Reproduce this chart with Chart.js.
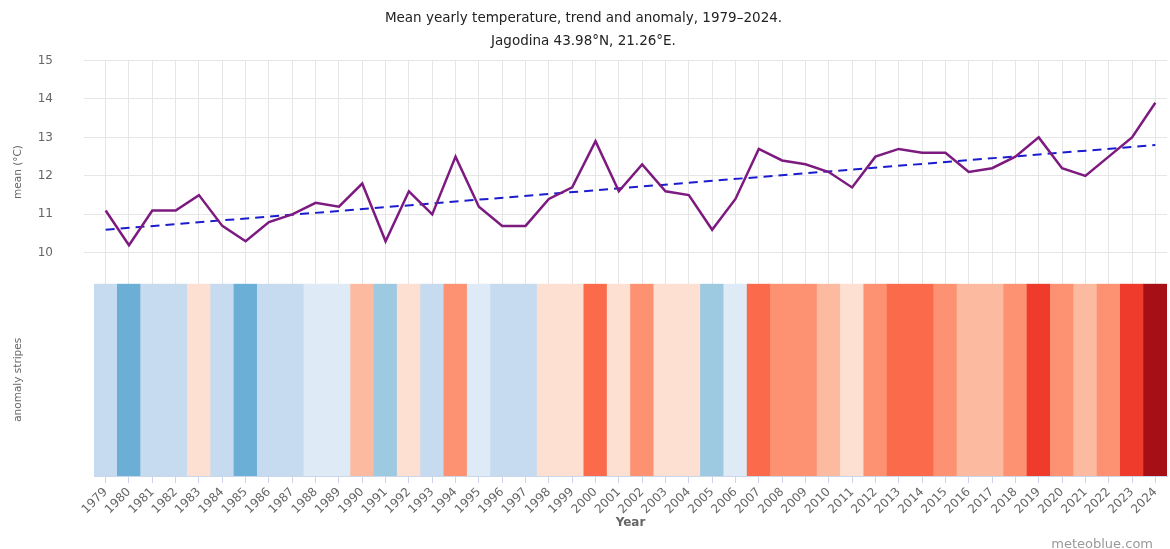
<!DOCTYPE html>
<html>
<head>
<meta charset="utf-8">
<title>Mean yearly temperature, Jagodina</title>
<script src="https://cdn.jsdelivr.net/npm/chart.js@4/dist/chart.umd.min.js"></script>
<style>
    body { margin: 0; background: #fff; }
    #wrap { position: relative; width: 1170px; height: 549px; }
</style>
</head>
<body>
<div id="wrap"><canvas id="chart" width="1170" height="549"></canvas></div>
<script>
// values
const years = ['1979', '1980', '1981', '1982', '1983', '1984', '1985', '1986', '1987', '1988',
    '1989', '1990', '1991', '1992', '1993', '1994', '1995', '1996', '1997', '1998',
    '1999', '2000', '2001', '2002', '2003', '2004', '2005', '2006', '2007', '2008',
    '2009', '2010', '2011', '2012', '2013', '2014', '2015', '2016', '2017', '2018',
    '2019', '2020', '2021', '2022', '2023', '2024'];

const meanTemp = [11.1, 10.2, 11.1, 11.1, 11.5, 10.7, 10.3, 10.8, 11.0, 11.3,
    11.2, 11.8, 10.3, 11.6, 11.0, 12.5, 11.2, 10.7, 10.7, 11.4,
    11.7, 12.9, 11.6, 12.3, 11.6, 11.5, 10.6, 11.4, 12.7, 12.4,
    12.3, 12.1, 11.7, 12.5, 12.7, 12.6, 12.6, 12.1, 12.2, 12.5,
    13.0, 12.2, 12.0, 12.5, 13.0, 13.9];

// trend line end points
const trendYears = ['1979', '2024'];
const trendValues = [10.6, 12.8];

// anomaly class of each stripe (negative = colder, positive = warmer)
const anomalyLevel = [-2, -4, -2, -2, 1, -2, -4, -2, -2, -1,
    -1, 2, -3, 1, -2, 3, -1, -2, -2, 1,
    1, 4, 1, 3, 1, 1, -3, -1, 4, 3,
    3, 2, 1, 3, 4, 4, 3, 2, 2, 3,
    5, 3, 2, 3, 5, 6];

const meanTicks = [10, 11, 12, 13, 14, 15];

const stripePalette = {
    '-4': '#6baed6', '-3': '#9ecae1', '-2': '#c6dbef', '-1': '#deebf7',
    '1': '#fee0d2', '2': '#fcbba1', '3': '#fc9272', '4': '#fb6a4a',
    '5': '#ef3b2c', '6': '#a50f15'
};

const labelFont = { family: 'DejaVu Sans', size: 12 };

const creditPlugin = {
    id: 'credit',
    afterDraw(chart) {
        const ctx = chart.ctx;
        ctx.save();
        ctx.font = '13px "DejaVu Sans"';
        ctx.fillStyle = '#999';
        ctx.textAlign = 'right';
        ctx.textBaseline = 'top';
        ctx.fillText('meteoblue.com', 1153, 538);
        ctx.restore();
    }
};

new Chart(document.getElementById('chart'), {
    data: {
        labels: years,
        datasets: [
            {
                type: 'line',
                label: 'mean',
                data: meanTemp,
                yAxisID: 'y',
                borderColor: '#7d1a80',
                borderWidth: 2.5,
                pointRadius: 0,
                tension: 0,
                order: 1
            },
            {
                type: 'line',
                label: 'trend',
                data: trendYears.map((yr, i) => ({ x: yr, y: trendValues[i] })),
                yAxisID: 'y',
                borderColor: '#1c1ccf',
                borderWidth: 2,
                borderDash: [9, 6],
                pointRadius: 0,
                order: 2
            },
            {
                type: 'bar',
                label: 'anomaly',
                data: anomalyLevel.map(() => 1),
                yAxisID: 'y2',
                backgroundColor: anomalyLevel.map(a => stripePalette[a]),
                borderWidth: 0,
                barPercentage: 1,
                categoryPercentage: 1,
                order: 3
            }
        ]
    },
    options: {
        responsive: false,
        animation: false,
        devicePixelRatio: 1,
        layout: { padding: { left: 0, right: 3, top: 0, bottom: 0 } },
        plugins: {
            legend: { display: false },
            tooltip: { enabled: false },
            title: {
                display: true,
                text: 'Mean yearly temperature, trend and anomaly, 1979\u20132024.',
                color: '#222',
                font: { family: 'DejaVu Sans', size: 13.5, weight: 'normal' },
                padding: { top: 10, bottom: 7 }
            },
            subtitle: {
                display: true,
                text: 'Jagodina 43.98\u00b0N, 21.26\u00b0E.',
                color: '#222',
                font: { family: 'DejaVu Sans', size: 13.5 },
                padding: { top: 0, bottom: 11 }
            }
        },
        scales: {
            x: {
                type: 'category',
                offset: true,
                grid: {
                    offset: false,
                    color: '#e6e6e6',
                    tickColor: '#ccd6eb',
                    tickLength: 7
                },
                border: { color: '#ccd6eb' },
                ticks: {
                    autoSkip: false,
                    maxRotation: 45,
                    minRotation: 45,
                    color: '#666',
                    font: labelFont,
                    padding: 2
                },
                title: {
                    display: true,
                    text: 'Year',
                    color: '#666',
                    font: { family: 'DejaVu Sans', size: 12, weight: 'bold' },
                    padding: { top: 0, bottom: 19 }
                },
                afterFit(scale) { scale.height = 73; }
            },
            y2: {
                type: 'linear',
                position: 'left',
                stack: 'main',
                stackWeight: 193,
                weight: 0,
                min: 0,
                max: 1,
                grid: { display: false },
                border: { display: false },
                ticks: { display: false },
                title: {
                    display: true,
                    text: 'anomaly stripes',
                    color: '#666',
                    font: { family: 'DejaVu Sans', size: 10.5 },
                    padding: { top: 12, bottom: 0 }
                },
                afterFit(scale) { scale.width = 94; }
            },
            y: {
                type: 'linear',
                position: 'left',
                stack: 'main',
                stackWeight: 224,
                weight: 1,
                min: 9.2,
                max: 15,
                afterBuildTicks(scale) { scale.ticks = meanTicks.map(v => ({ value: v })); },
                grid: { color: '#e6e6e6', tickLength: 10 },
                border: { display: false },
                ticks: { color: '#666', font: labelFont, padding: 31 },
                title: {
                    display: true,
                    text: 'mean (\u00b0C)',
                    color: '#666',
                    font: { family: 'DejaVu Sans', size: 10.5 },
                    padding: { top: 12, bottom: 0 }
                },
                afterFit(scale) { scale.width = 94; }
            }
        }
    },
    plugins: [creditPlugin]
});
</script>
</body>
</html>
